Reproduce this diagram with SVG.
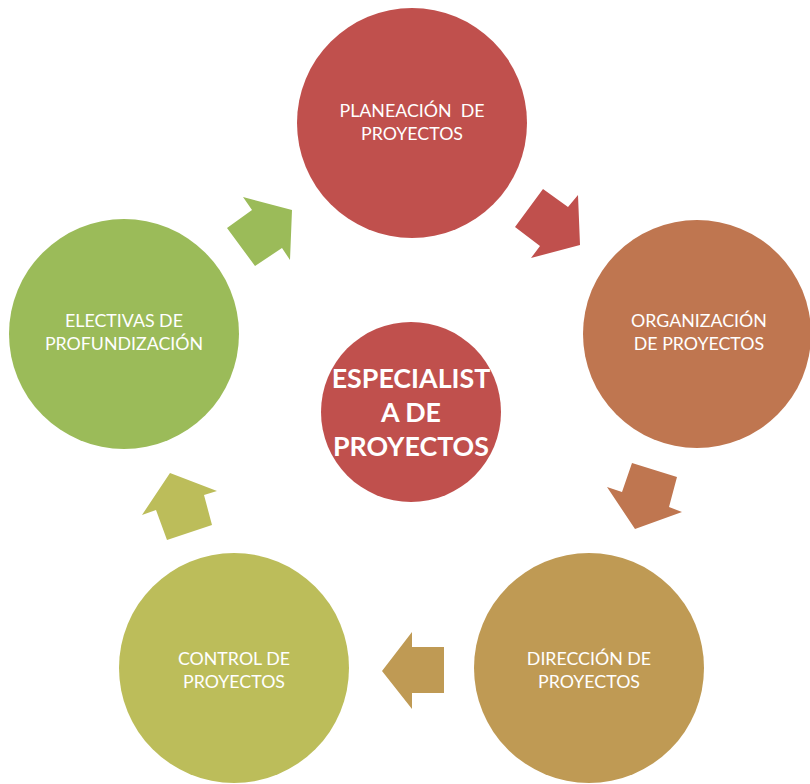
<svg xmlns="http://www.w3.org/2000/svg" width="810" height="784" viewBox="0 0 810 784">
<style>
.lbl{font-family:Lato,"Open Sans","Liberation Sans",sans-serif;font-size:17.8px;fill:#fff;text-anchor:middle}
.big{font-family:Lato,"Open Sans","Liberation Sans",sans-serif;font-size:26.8px;font-weight:bold;fill:#fff;text-anchor:middle}
</style>
<rect width="810" height="784" fill="#fff"/>
<g id="connectors">
<polygon points="515,227 543,189 568,207 578,195 580,245 531,258 540,246" fill="#C0504D"/>
<polygon points="632,463 677,477 669,507 682,512 635,529 607,487 622,492" fill="#BF7650"/>
<polygon points="382,671 412,632 412,647 444,647 444,693 412,693 412,709" fill="#BF9A54"/>
<polygon points="170,473 217,491 204,495 212,525 167,540 156,510 142,515" fill="#BCBD5A"/>
<polygon points="243,197 292,210 290,260 282,248 255,266 227,228 252,210" fill="#9BBB59"/>
</g>
<g id="planeacion">
<circle cx="412" cy="123" r="115" fill="#C0504D"/>
<text class="lbl" x="412" y="117" xml:space="preserve">PLANEACIÓN  DE</text>
<text class="lbl" x="412" y="140">PROYECTOS</text>
</g>
<g id="organizacion">
<circle cx="697" cy="334" r="114" fill="#BF7650"/>
<text class="lbl" x="699" y="327">ORGANIZACIÓN</text>
<text class="lbl" x="699" y="350">DE PROYECTOS</text>
</g>
<g id="direccion">
<circle cx="589" cy="668" r="115" fill="#BF9A54"/>
<text class="lbl" x="589" y="665">DIRECCIÓN DE</text>
<text class="lbl" x="589" y="688">PROYECTOS</text>
</g>
<g id="control">
<circle cx="234" cy="668" r="115" fill="#BCBD5A"/>
<text class="lbl" x="234" y="665">CONTROL DE</text>
<text class="lbl" x="234" y="688">PROYECTOS</text>
</g>
<g id="electivas">
<circle cx="124" cy="334" r="115" fill="#9BBB59"/>
<text class="lbl" x="124" y="327">ELECTIVAS DE</text>
<text class="lbl" x="124" y="350">PROFUNDIZACIÓN</text>
</g>
<g id="especialista">
<circle cx="411" cy="412" r="90" fill="#C0504D"/>
<text class="big" x="411" y="388">ESPECIALIST</text>
<text class="big" x="411" y="422">A DE</text>
<text class="big" x="411" y="456">PROYECTOS</text>
</g>
</svg>
